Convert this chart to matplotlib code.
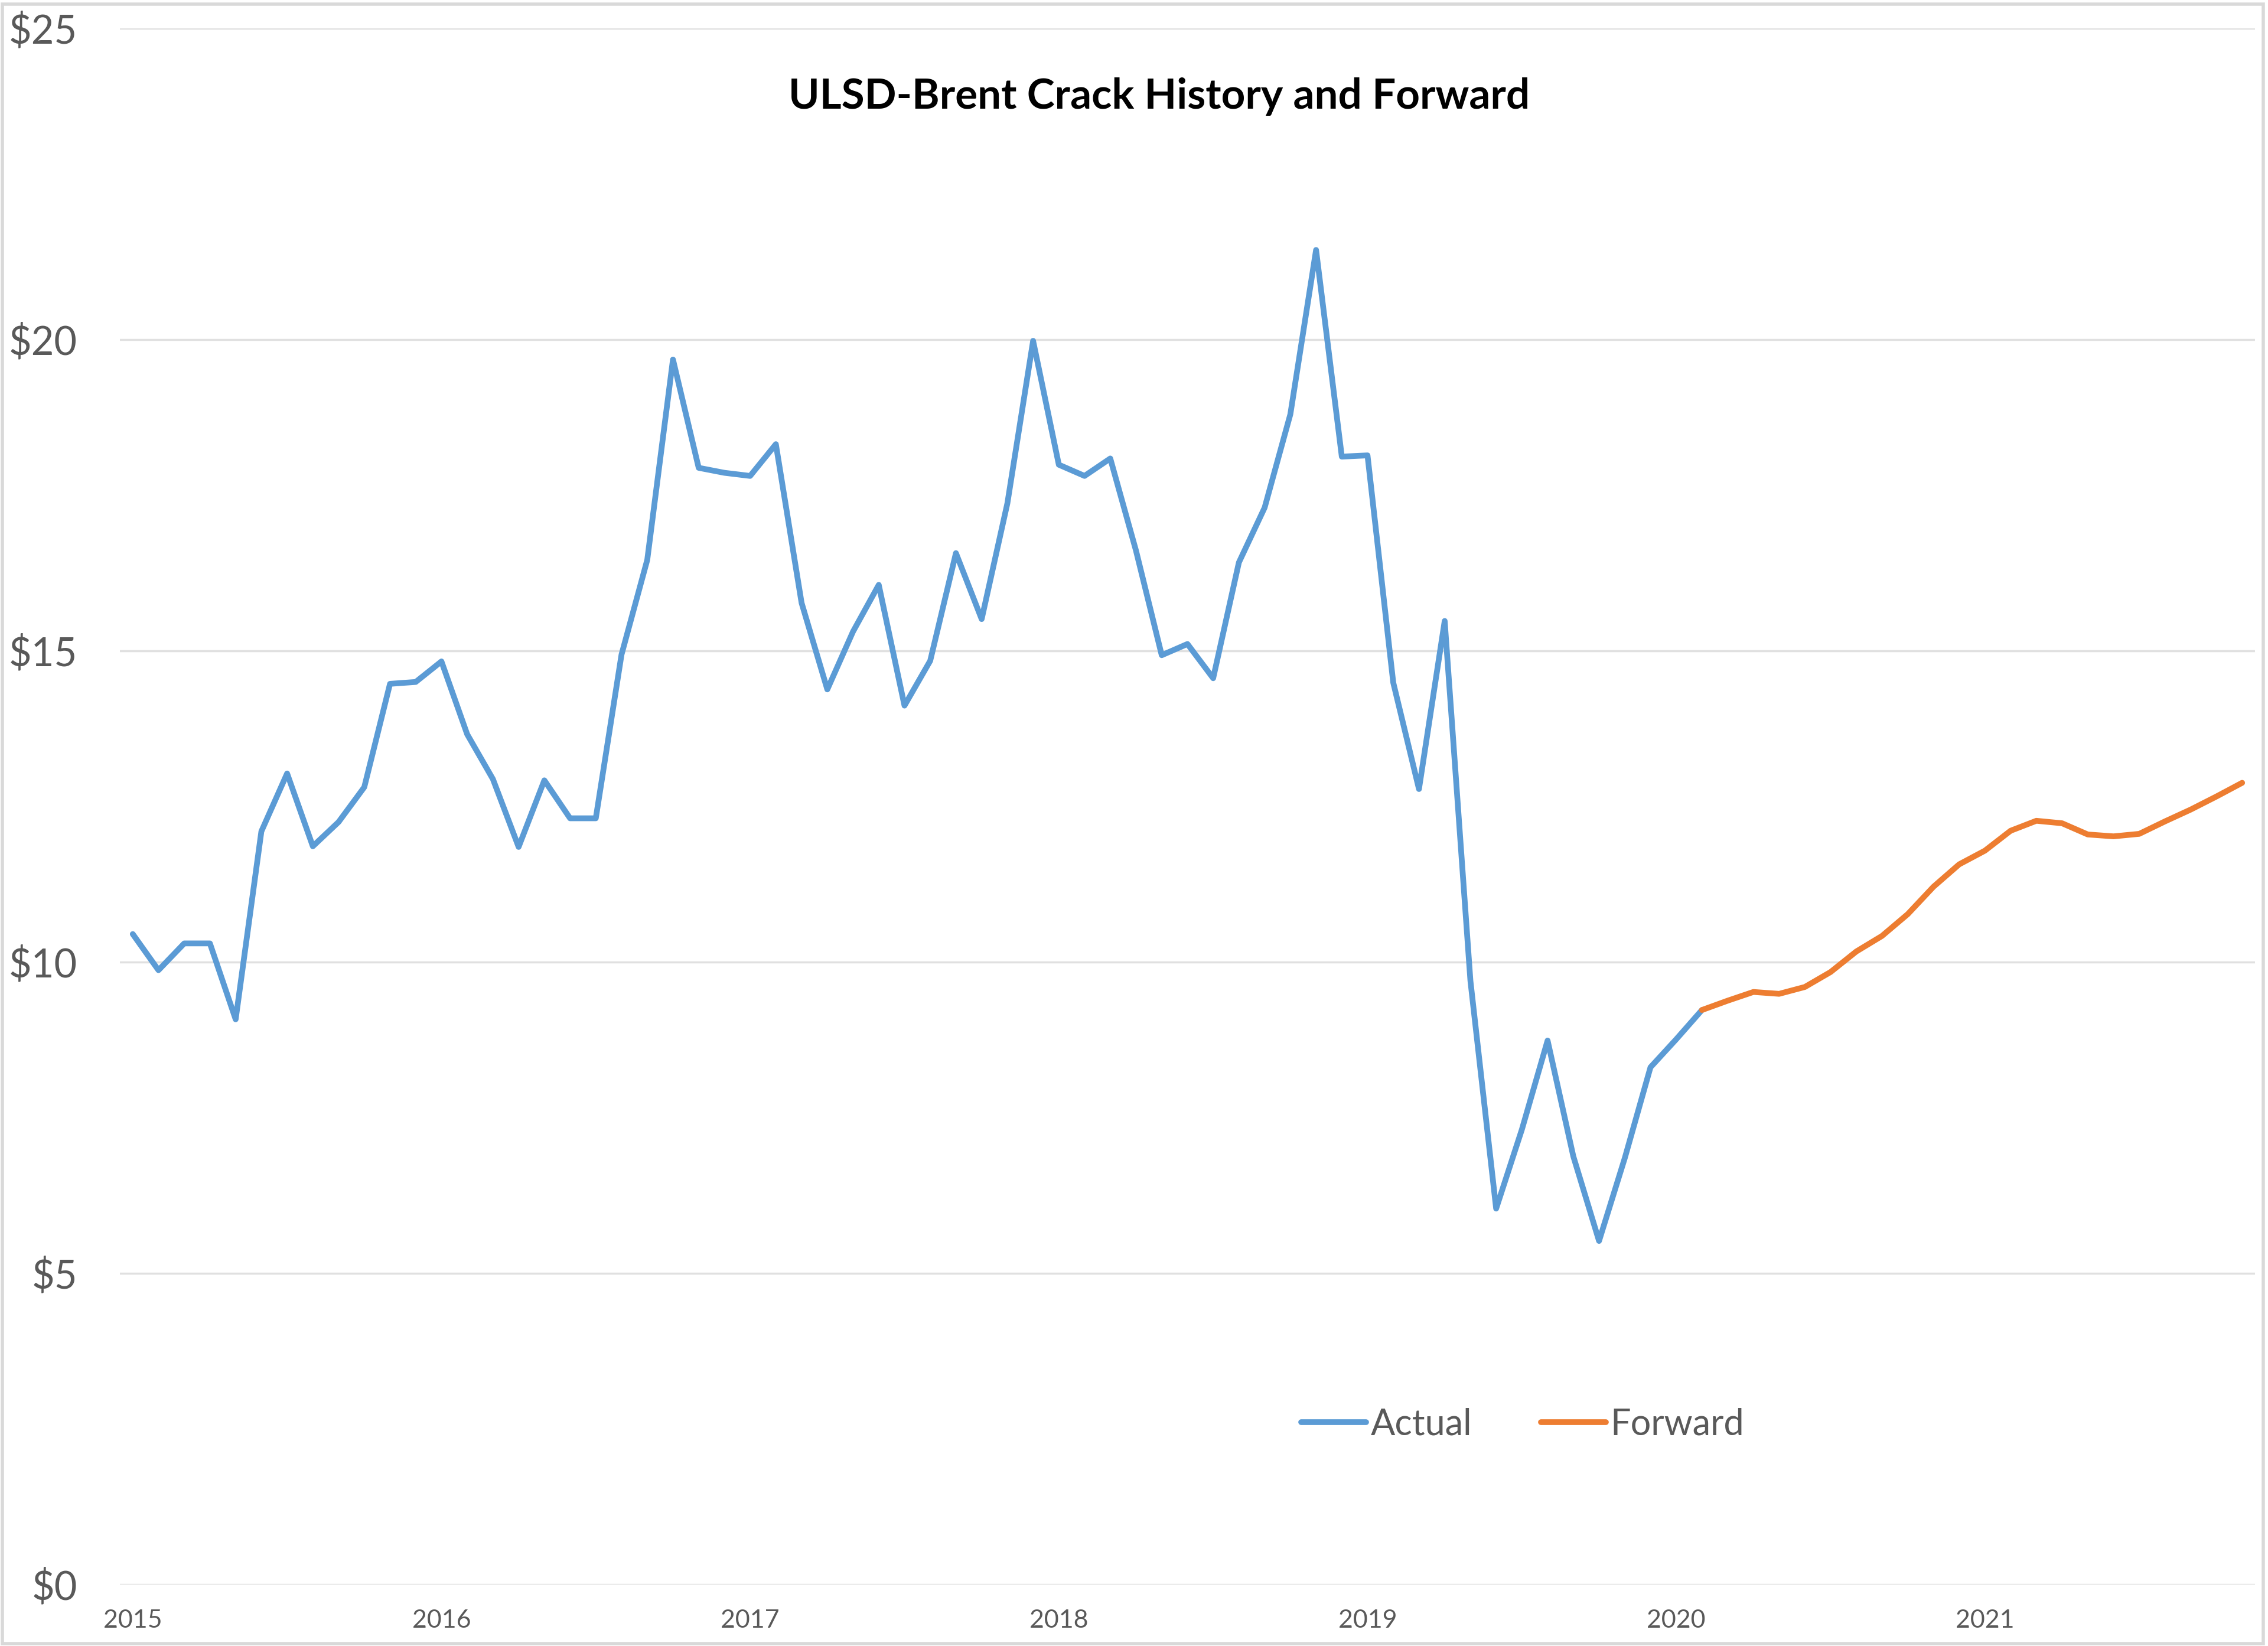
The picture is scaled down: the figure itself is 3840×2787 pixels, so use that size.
import numpy as np
import matplotlib
matplotlib.use("Agg")
import matplotlib.pyplot as plt
from matplotlib.patches import Rectangle

plt.rcParams['font.family'] = ['Lato', 'DejaVu Sans']

# ---- data (monthly, Jan 2015 onward) ----
year_labels = ['2015', '2016', '2017', '2018', '2019', '2020', '2021']

actual = [10.45, 9.87, 10.30, 10.30, 9.08, 12.10, 13.03, 11.86, 12.25, 12.81, 14.47, 14.50,
          14.83, 13.66, 12.94, 11.85, 12.92, 12.31, 12.31, 14.94, 16.46, 19.68, 17.94, 17.86,
          17.81, 18.32, 15.77, 14.38, 15.31, 16.06, 14.12, 14.84, 16.57, 15.51, 17.37, 19.98,
          17.99, 17.81, 18.09, 16.61, 14.93, 15.11, 14.56, 16.42, 17.30, 18.80, 21.44, 18.12,
          18.14, 14.49, 12.78, 15.48, 9.70, 6.04, 7.31, 8.74, 6.88, 5.52, 6.85, 8.31,
          8.76, 9.23]

forward = [9.23, 9.38, 9.52, 9.49, 9.60, 9.84, 10.17, 10.42, 10.77, 11.21, 11.57,
           11.79, 12.11, 12.27, 12.23, 12.05, 12.02, 12.06, 12.26, 12.45, 12.66, 12.88]

y_ticks = [0, 5, 10, 15, 20, 25]
y_tick_labels = ['$0', '$5', '$10', '$15', '$20', '$25']

# ---- positions (month index) ----
x_actual = np.arange(len(actual))
forward_start = len(actual) - 1
x_forward = np.arange(forward_start, forward_start + len(forward))
n_months = forward_start + len(forward)

W, H, DPI = 3840, 2787, 100
fig = plt.figure(figsize=(W / DPI, H / DPI), dpi=DPI)
fig.patch.set_facecolor('white')

ax = fig.add_axes([203 / W, 1 - 2683 / H, (3818 - 203) / W, (2683 - 48) / H])
ax.set_facecolor('white')

blue = '#5B9BD5'
orange = '#ED7D31'

ax.plot(x_actual, actual, color=blue, lw=7, solid_joinstyle='round',
        solid_capstyle='round', label='Actual', zorder=3)
ax.plot(x_forward, forward, color=orange, lw=7, solid_joinstyle='round',
        solid_capstyle='round', label='Forward', zorder=3)

ax.set_xlim(-0.5, n_months - 0.5)
ax.set_ylim(0, 25)

ax.set_yticks(y_ticks)
ax.set_yticklabels(y_tick_labels)
ax.set_xticks(np.arange(len(year_labels)) * 12)
ax.set_xticklabels(year_labels)

ax.grid(axis='y', color='#E0E0E0', lw=2.5, zorder=0)
ax.grid(axis='x', visible=False)
for s in ax.spines.values():
    s.set_visible(False)

ax.tick_params(axis='y', length=0, pad=52, labelsize=48, labelcolor='#595959')
ax.tick_params(axis='x', length=0, pad=30, labelsize=31, labelcolor='#595959')
ax.set_axisbelow(True)

fig.text(1963 / W, 1 - 164 / H, 'ULSD-Brent Crack History and Forward',
         ha='center', va='center', fontsize=51, fontweight='bold', color='black')

leg = fig.legend(loc='center', bbox_to_anchor=(2578 / W, 1 - 2412 / H), ncol=2,
                 frameon=False, fontsize=44, handlelength=1.8, handletextpad=0.12,
                 columnspacing=1.9, labelcolor='#595959')

# chart border
fig.patches.append(Rectangle((0.001, 0.0015), 0.997, 0.996, transform=fig.transFigure,
                             fill=False, edgecolor='#D9D9D9', lw=4))

fig.savefig('out.png', dpi=DPI, facecolor='white')
